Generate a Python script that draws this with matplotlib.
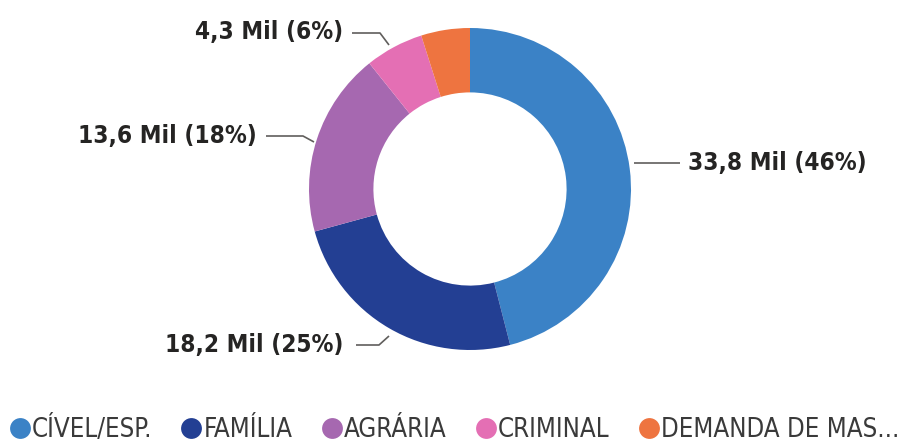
import matplotlib
matplotlib.use("Agg")
import matplotlib.pyplot as plt
from matplotlib.lines import Line2D

# ── Data ──
categories = ["CÍVEL/ESP.", "FAMÍLIA", "AGRÁRIA", "CRIMINAL", "DEMANDA DE MAS..."]
values     = [33.8, 18.2, 13.6, 4.3, 3.6]
labels     = ["33,8 Mil (46%)", "18,2 Mil (25%)", "13,6 Mil (18%)", "4,3 Mil (6%)", None]
colors     = ["#3b82c6", "#233f93", "#a668b0", "#e46fb4", "#ee7440"]

FONT = ["DejaVu Sans"]

W, H = 916, 445
fig = plt.figure(figsize=(W / 100, H / 100), dpi=100)
fig.patch.set_facecolor("white")
ax = fig.add_axes([0, 0, 1, 1])

# ── Donut ──
cx, cy, r = 470, H - 189, 161
wedges, _ = ax.pie(values, colors=colors, startangle=90, counterclock=False,
                   center=(cx, cy), radius=r, frame=True,
                   wedgeprops=dict(width=r * 0.40, linewidth=0))
ax.set_xlim(0, W)
ax.set_ylim(0, H)
ax.set_aspect("equal")
ax.axis("off")

# ── Labels with leader lines (text anchor, elbow, end on slice) ──
leaders = [
    ((688, 163), [(680, 163), (634, 163)], "left"),
    ((343, 345), [(356, 345), (379, 345), (389, 336)], "right"),
    ((257, 136), [(266, 136), (303, 136), (314, 142)], "right"),
    ((343, 32),  [(352, 33), (380, 33), (389, 45)], "right"),
]
for lab, (txt_xy, pts, ha) in zip(labels, leaders):
    if lab is None:
        continue
    ax.text(txt_xy[0], H - txt_xy[1], lab, ha=ha, va="center",
            fontsize=17.5, fontweight="bold", fontstretch="condensed",
            color="#252423", family=FONT)
    ax.plot([p[0] for p in pts], [H - p[1] for p in pts],
            color="#605e5c", lw=1.2, solid_capstyle="butt")

# ── Legend ──
handles = [Line2D([0], [0], marker="o", linestyle="", markersize=15,
                  markerfacecolor=c, markeredgewidth=0) for c in colors]
leg = fig.legend(handles, categories, loc="lower left", bbox_to_anchor=(-0.006, -0.033),
                 ncol=5, frameon=False, handlelength=0.65, handletextpad=0.15,
                 columnspacing=1.2, borderaxespad=0.25,
                 prop={"family": FONT, "size": 18.5, "stretch": "condensed"})
for t in leg.get_texts():
    t.set_color("#3a3a3a")

fig.savefig("out.png", dpi=100, facecolor="white")
